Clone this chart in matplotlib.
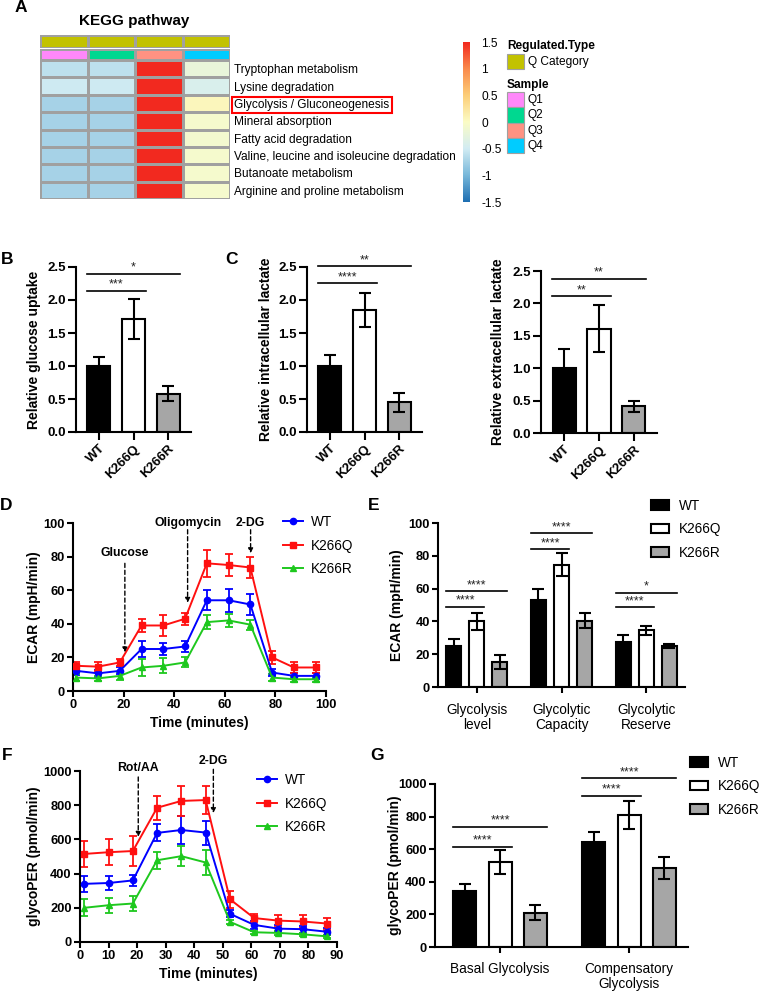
import numpy as np
import matplotlib
matplotlib.use('Agg')
import matplotlib.pyplot as plt
from matplotlib.colors import LinearSegmentedColormap, ListedColormap
from matplotlib.patches import Rectangle, Patch

plt.rcParams['font.family'] = ['Liberation Sans', 'DejaVu Sans']

W, H = 759, 991

# ============================================================
#  DATA
# ============================================================
# --- A : KEGG heatmap
pathways = ['Tryptophan metabolism', 'Lysine degradation', 'Glycolysis / Gluconeogenesis',
            'Mineral absorption', 'Fatty acid degradation',
            'Valine, leucine and isoleucine degradation', 'Butanoate metabolism',
            'Arginine and proline metabolism']
samples = ['Q1', 'Q2', 'Q3', 'Q4']
sample_colors = ['#ff88fa', '#00d890', '#ff9282', '#00ccff']
category_color = '#c2c200'
heat_vals = [
    [-0.62, -0.62, 1.5, -0.22],
    [-0.52, -0.52, 1.5, -0.42],
    [-0.74, -0.74, 1.5, 0.06],
    [-0.74, -0.74, 1.5, -0.08],
    [-0.74, -0.74, 1.5, -0.1],
    [-0.74, -0.74, 1.5, -0.08],
    [-0.74, -0.74, 1.5, -0.08],
    [-0.74, -0.74, 1.5, -0.08],
]
cbar_ticks = [1.5, 1, 0.5, 0, -0.5, -1, -1.5]

# --- B / C : bars
groups3 = ['WT', 'K266Q', 'K266R']
bar_colors = ['black', 'white', '#a6a6a6']
glucose_mean = [1.0, 1.71, 0.58]
glucose_err = [0.13, 0.30, 0.11]
glucose_sig = [(0, 2, '*', 2.40), (0, 1, '***', 2.14)]
intra_mean = [1.0, 1.85, 0.45]
intra_err = [0.16, 0.26, 0.14]
intra_sig = [(0, 2, '**', 2.51), (0, 1, '****', 2.25)]
extra_mean = [1.0, 1.61, 0.41]
extra_err = [0.30, 0.36, 0.09]
extra_sig = [(0, 2, '**', 2.38), (0, 1, '**', 2.11)]

# --- D : ECAR time course
ecar_time = [1.3, 9.9, 18.5, 27.1, 35.7, 44.3, 52.9, 61.5, 70.1, 78.7, 87.3, 95.9]
ecar_wt = [12, 10.5, 12, 25, 25, 26.5, 54, 54, 51.5, 11, 9, 9]
ecar_wt_err = [2.5, 2, 2, 5, 3.5, 3, 6, 7, 6, 2, 2, 2]
ecar_q = [15, 14.5, 17, 39, 39, 43, 76, 75, 73.5, 20, 14, 14]
ecar_q_err = [2, 2.5, 2, 4, 6, 3.5, 8, 6.5, 6.5, 4, 3, 3.5]
ecar_r = [8, 7.5, 9, 14, 15, 17, 41, 42, 39.5, 8, 7, 7]
ecar_r_err = [2, 1.5, 2.5, 5, 4.5, 3, 4, 4, 3, 2, 1.5, 1.5]
ecar_events = ['Glucose', 'Oligomycin', '2-DG']
ecar_event_t = [20.5, 45.3, 70.2]
ecar_event_from = [76, 96, 96]
ecar_event_to = [23, 52.5, 82]
ecar_event_label_y = [82, 100, 100]

# --- E : ECAR summary
ecar_cats = ['Glycolysis\nlevel', 'Glycolytic\nCapacity', 'Glycolytic\nReserve']
sum_wt = [25, 53, 27.5]
sum_wt_err = [4, 6.5, 4]
sum_q = [40, 74.5, 34.5]
sum_q_err = [5.2, 7, 3]
sum_r = [15.5, 40.5, 25]
sum_r_err = [4.3, 4.5, 1.3]
sum_sig_long = [58.5, 93.7, 57.5]
sum_sig_long_lab = ['****', '****', '*']
sum_sig_in = [49, 84, 48.6]
sum_sig_in_lab = ['****', '****', '****']

# --- F : glycoPER time course
per_time = [1.5, 10, 18.5, 27, 35.5, 44, 52.5, 61, 69.5, 78, 86.5]
per_wt = [340, 345, 360, 638, 655, 640, 165, 100, 78, 75, 60]
per_wt_err = [45, 40, 30, 50, 80, 70, 20, 25, 20, 20, 20]
per_q = [515, 525, 532, 785, 825, 830, 250, 140, 125, 120, 108]
per_q_err = [75, 75, 85, 70, 90, 80, 50, 25, 35, 40, 35]
per_r = [200, 215, 225, 478, 502, 465, 118, 57, 53, 45, 33]
per_r_err = [50, 45, 45, 50, 60, 75, 10, 10, 10, 10, 10]
per_events = ['Rot/AA', '2-DG']
per_event_t = [20.4, 46.7]
per_event_from = [965, 1010]
per_event_to = [615, 754]
per_event_label_y = [1015, 1057]

# --- G : glycoPER summary
glyco_cats = ['Basal Glycolysis', 'Compensatory\nGlycolysis']
gp_wt = [345, 643]
gp_wt_err = [42, 62]
gp_q = [520, 810]
gp_q_err = [75, 85]
gp_r = [210, 485]
gp_r_err = [47, 65]
gp_sig_long = [738, 1037]
gp_sig_in = [615, 928]

line_colors = ['#0000ff', '#ff1010', '#1ec81e']
line_markers = ['o', 's', '^']

# ============================================================
#  FIGURE
# ============================================================
fig = plt.figure(figsize=(W / 100, H / 100), dpi=100)
ov = fig.add_axes([0, 0, 1, 1])
ov.set_xlim(0, W)
ov.set_ylim(H, 0)
ov.axis('off')


def px_axes(x0, y0, x1, y1):
    return fig.add_axes([x0 / W, 1 - y1 / H, (x1 - x0) / W, (y1 - y0) / H])


def prism(ax, size=9.3, length=4.5):
    for s in ['top', 'right']:
        ax.spines[s].set_visible(False)
    for s in ['left', 'bottom']:
        ax.spines[s].set_linewidth(1.5)
    ax.tick_params(width=1.5, length=length, labelsize=size, pad=1.5)
    for lab in ax.get_yticklabels():
        lab.set_fontweight('bold')


def ylab(ax, text, xr, yc):
    ax.set_ylabel(text, fontsize=10, fontweight='bold')
    ax.yaxis.set_label_coords(xr, yc, transform=ov.transData)


def xlab(ax, text, xc, yt):
    ax.set_xlabel(text, fontsize=10, fontweight='bold')
    ax.xaxis.set_label_coords(xc, yt, transform=ov.transData)


def sig_line(ax, x0, x1, y, s):
    ax.plot([x0, x1], [y, y], color='black', lw=1.2, clip_on=False)
    ax.text((x0 + x1) / 2, y, s, ha='center', va='bottom', fontsize=9, clip_on=False,
            color='#222222')


# panel letters
for let, x, y in [('A', 21, 8), ('B', 7, 259), ('C', 232, 259), ('D', 6, 506),
                  ('E', 374, 506), ('F', 7, 755), ('G', 377, 755)]:
    ov.text(x, y, let, ha='center', va='center', fontsize=12.5, fontweight='bold')

# ---------------- A
cmap = LinearSegmentedColormap.from_list('kegg', [
    (0.0, '#1f6fb2'), (1 / 6, '#78b8da'), (2 / 6, '#d2ecf3'), (0.5, '#fbfcc6'),
    (4 / 6, '#fdce78'), (5 / 6, '#fa8a4c'), (1.0, '#f2291f')])

ov.text(134, 21, 'KEGG pathway', ha='center', va='center', fontsize=11, fontweight='bold')

ax_c1 = px_axes(40, 35, 230, 48)
ax_c1.pcolormesh(np.zeros((1, len(samples))), cmap=ListedColormap([category_color]),
                 edgecolors='#a0a0a0', linewidth=0.8)
ax_c2 = px_axes(40, 49, 230, 60)
ax_c2.pcolormesh(np.arange(len(samples)).reshape(1, -1), cmap=ListedColormap(sample_colors),
                 edgecolors='#a0a0a0', linewidth=0.8)
ax_h = px_axes(40, 60, 230, 199)
ax_h.pcolormesh(np.array(heat_vals), cmap=cmap, vmin=-1.5, vmax=1.5,
                edgecolors='#a0a0a0', linewidth=0.8)
ax_h.invert_yaxis()
for a in (ax_c1, ax_c2, ax_h):
    a.set_xticks([])
    for s in a.spines.values():
        s.set_visible(False)
ax_c1.set_yticks([])
ax_c2.set_yticks([])
ax_h.yaxis.tick_right()
ax_h.set_yticks(np.arange(len(pathways)) + 0.5)
ax_h.set_yticklabels(pathways, fontsize=8.6)
ax_h.tick_params(axis='y', length=0, pad=3)
ax_h.get_yticklabels()[2].set_bbox(dict(boxstyle='square,pad=0.2', fc='none', ec='red', lw=1.5))

ax_cb = px_axes(463, 42, 470, 202)
ax_cb.imshow(np.linspace(-1.5, 1.5, 256).reshape(-1, 1), aspect='auto', cmap=cmap,
             origin='lower', extent=[0, 1, -1.5, 1.5])
ax_cb.set_xticks([])
ax_cb.yaxis.tick_right()
ax_cb.set_yticks(cbar_ticks)
ax_cb.set_yticklabels([f'{t:g}' for t in cbar_ticks], fontsize=8.6)
ax_cb.tick_params(axis='y', length=0, pad=8)
for s in ax_cb.spines.values():
    s.set_visible(False)

ov.text(507, 46, 'Regulated.Type', fontsize=8.6, fontweight='bold', va='center')
ov.add_patch(Rectangle((507, 54), 17, 15, fc=category_color, ec='#a0a0a0', lw=0.8))
ov.text(528, 62, 'Q Category', fontsize=8.6, va='center')
ov.text(507, 85, 'Sample', fontsize=8.6, fontweight='bold', va='center')
for i, (s, c) in enumerate(zip(samples, sample_colors)):
    ov.add_patch(Rectangle((507, 92 + i * 15.3), 17, 15.3, fc=c, ec='#a0a0a0', lw=0.8))
    ov.text(528, 100 + i * 15.3, s, fontsize=8.6, va='center')

# ---------------- B / C


def bar3(rect, means, errs, sigs, ylabel, xr):
    ax = px_axes(*rect)
    x = np.arange(3)
    ax.bar(x, means, width=0.66, color=bar_colors, edgecolor='black', linewidth=1.5, zorder=2)
    ax.errorbar(x, means, yerr=errs, fmt='none', ecolor='black', elinewidth=1.5,
                capsize=4, capthick=1.5, zorder=3)
    ax.set_xlim(-0.66, 2.66)
    ax.set_ylim(0, 2.5)
    ax.set_yticks(np.arange(0, 2.51, 0.5))
    ax.set_yticklabels([f'{v:.1f}' for v in np.arange(0, 2.51, 0.5)])
    ax.set_xticks(x)
    ax.set_xticklabels(groups3, rotation=45, ha='right', rotation_mode='anchor',
                       fontweight='bold')
    prism(ax, size=9.5, length=6)
    for i, j, s, y in sigs:
        sig_line(ax, i - 0.35, j + 0.35, y, s)
    ylab(ax, ylabel, xr, (rect[1] + rect[3]) / 2)
    return ax


bar3((76, 267, 191, 432), glucose_mean, glucose_err, glucose_sig, 'Relative glucose uptake', 41)
bar3((307, 267, 422, 432), intra_mean, intra_err, intra_sig, 'Relative intracellular lactate', 273)
bar3((541, 271, 657, 433), extra_mean, extra_err, extra_sig, 'Relative extracellular lactate', 505)

# ---------------- D / F time courses


def timecourse(rect, t, series, errs, labels, xlim, ylim, xt, yt, events, ylabel, xr,
               xlab_y, leg_xy):
    ax = px_axes(*rect)
    for vals, err, lab, c, m in zip(series, errs, labels, line_colors, line_markers):
        ax.errorbar(t, vals, yerr=err, fmt='none', ecolor=c, elinewidth=1.3,
                    capsize=3, capthick=1.3, zorder=2)
        ax.plot(t, vals, color=c, marker=m, ms=4.5, lw=1.4, label=lab, zorder=3)
    ax.set_xlim(*xlim)
    ax.set_ylim(*ylim)
    ax.set_xticks(xt)
    ax.set_yticks(yt)
    prism(ax, size=9.3, length=4.5)
    for lab in ax.get_xticklabels():
        lab.set_fontweight('bold')
    for name, et, e0, e1, ly in zip(*events):
        ax.annotate('', xy=(et, e1), xytext=(et, e0),
                    arrowprops=dict(arrowstyle='-|>', color='black', lw=1, ls=(0, (3, 2)),
                                    mutation_scale=7, shrinkA=0, shrinkB=0),
                    annotation_clip=False)
        ax.text(et, ly, name, ha='center', va='center', fontsize=8.8, fontweight='bold',
                clip_on=False)
    ylab(ax, ylabel, xr, (rect[1] + rect[3]) / 2)
    xlab(ax, 'Time (minutes)', (rect[0] + rect[2]) / 2, xlab_y)
    ax.legend(loc='upper left', bbox_to_anchor=(leg_xy[0] / W, 1 - leg_xy[1] / H),
              bbox_transform=fig.transFigure, frameon=False, fontsize=9.8,
              handlelength=1.45, handletextpad=0.6, labelspacing=0.7,
              borderpad=0, borderaxespad=0)
    return ax


timecourse((73, 523, 326, 691), ecar_time, [ecar_wt, ecar_q, ecar_r],
           [ecar_wt_err, ecar_q_err, ecar_r_err], groups3, (0, 100), (0, 100),
           range(0, 101, 20), range(0, 101, 20),
           (ecar_events, ecar_event_t, ecar_event_from, ecar_event_to, ecar_event_label_y),
           'ECAR (mpH/min)', 41, 716, (283, 515))

timecourse((80, 771, 337, 942), per_time, [per_wt, per_q, per_r],
           [per_wt_err, per_q_err, per_r_err], groups3, (0, 90), (0, 1000),
           range(0, 91, 10), range(0, 1001, 200),
           (per_events, per_event_t, per_event_from, per_event_to, per_event_label_y),
           'glycoPER (pmol/min)', 41, 967, (257, 773))

# ---------------- E / G grouped bars


def grouped(rect, cats, means, errs, ylim, yt, sig_long, sig_long_lab, sig_in, sig_in_lab,
            xlim, ylabel, xr, leg_xy, xpad):
    ax = px_axes(*rect)
    x = np.arange(len(cats))
    off, w = 0.272, 0.178
    for k, (m, e, c, lab) in enumerate(zip(means, errs, bar_colors, groups3)):
        ax.bar(x + (k - 1) * off, m, width=w, color=c, edgecolor='black', linewidth=1.5,
               label=lab, zorder=2)
        ax.errorbar(x + (k - 1) * off, m, yerr=e, fmt='none', ecolor='black', elinewidth=1.5,
                    capsize=4, capthick=1.5, zorder=3)
    ax.set_xlim(*xlim)
    ax.set_ylim(*ylim)
    ax.set_yticks(yt)
    ax.set_xticks(x)
    ax.set_xticklabels(cats, fontsize=9.8, linespacing=1.1)
    prism(ax, size=9.3, length=4.5)
    ax.tick_params(axis='x', labelsize=9.8, pad=xpad)
    for g in x:
        sig_line(ax, g - off - w / 2, g + off + w / 2, sig_long[g], sig_long_lab[g])
        sig_line(ax, g - off - w / 2, g + w / 2, sig_in[g], sig_in_lab[g])
    ylab(ax, ylabel, xr, (rect[1] + rect[3]) / 2)
    handles = [Patch(facecolor=c, edgecolor='black', lw=1.5, label=l)
               for c, l in zip(bar_colors, groups3)]
    ax.legend(handles=handles, loc='upper left',
              bbox_to_anchor=(leg_xy[0] / W, 1 - leg_xy[1] / H),
              bbox_transform=fig.transFigure, frameon=False, fontsize=9.8,
              handlelength=1.3, handleheight=0.7, handletextpad=0.75, labelspacing=0.68,
              borderpad=0, borderaxespad=0)
    return ax


grouped((438, 523, 685, 687), ecar_cats, [sum_wt, sum_q, sum_r],
        [sum_wt_err, sum_q_err, sum_r_err], (0, 100), range(0, 101, 20),
        sum_sig_long, sum_sig_long_lab, sum_sig_in, sum_sig_in_lab,
        (-0.46, 2.46), 'ECAR (mpH/min)', 404, (651, 499), 7)

grouped((435, 784, 688, 947), glyco_cats, [gp_wt, gp_q, gp_r],
        [gp_wt_err, gp_q_err, gp_r_err], (0, 1000), range(0, 1001, 200),
        gp_sig_long, ['****'] * 2, gp_sig_in, ['****'] * 2,
        (-0.504, 1.457), 'glycoPER (pmol/min)', 402, (690, 756), 6)

fig.savefig('out.png', dpi=100)
